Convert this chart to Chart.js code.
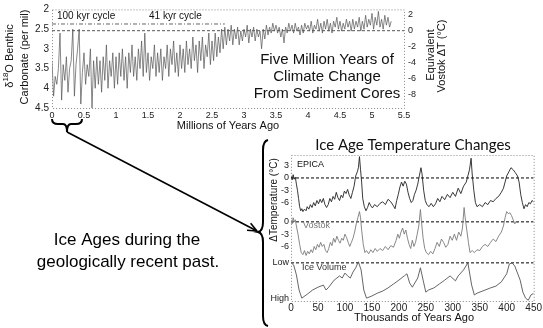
<!DOCTYPE html>
<html>
<head>
<meta charset="utf-8">
<script src="https://cdn.jsdelivr.net/npm/chart.js@4.4.0/dist/chart.umd.min.js"></script>
<style>
  body { margin: 0; background: #fff; }
  #wrap { position: relative; width: 543px; height: 328px; }
  #topBox { position: absolute; left: 0; top: 0; width: 543px; height: 328px; }
  #iceBox { position: absolute; left: 268px; top: 128px; width: 275px; height: 200px; }
</style>
</head>
<body>
<div id="wrap">
  <div id="topBox"><canvas id="sedimentCores"></canvas></div>
  <div id="iceBox"><canvas id="iceAges"></canvas></div>
</div>
<script>
// benthic d18O stack, one value every 0.025 Myr from 0 to 5.3 Ma
const sampleStepMa = 0.025;
const d18O = [
  3.3, 4.2, 3.7, 3.9, 3.5, 2.6, 4.3, 3.4, 3.8, 3.2,
  4.1, 3.5, 3.3, 2.5, 4.2, 3.4, 3.0, 2.5, 4.4, 3.6,
  3.1, 3.9, 3.4, 3.7, 3.0, 4.5, 3.3, 4.0, 3.2, 3.9,
  3.3, 4.1, 3.2, 3.8, 2.9, 4.0, 3.3, 3.7, 3.1, 4.0,
  3.2, 3.9, 3.1, 3.7, 3.0, 3.8, 3.2, 4.0, 3.1, 3.6,
  2.9, 3.7, 3.2, 3.8, 3.0, 3.5, 2.8, 3.7, 2.6, 3.6,
  3.1, 3.8, 3.2, 3.5, 2.9, 3.7, 3.1, 3.6, 3.0, 3.8,
  3.2, 3.5, 2.9, 3.7, 3.0, 3.4, 2.8, 3.6, 3.1, 3.7,
  2.9, 3.5, 3.0, 3.6, 2.8, 3.4, 3.0, 3.5, 2.7, 3.3,
  2.9, 3.6, 2.8, 3.3, 2.7, 3.5, 2.9, 3.2, 2.6, 3.4,
  2.8, 3.3, 2.6, 3.2, 2.7, 3.1, 2.5, 3.0, 2.45, 2.9,
  2.5, 2.8, 2.4, 2.9, 2.5, 2.75, 2.45, 2.9, 2.55, 2.8,
  2.5, 2.7, 2.4, 2.85, 2.5, 2.7, 2.45, 2.8, 2.5, 2.7,
  2.55, 3.0, 2.5, 2.75, 2.4, 2.65, 2.45, 2.6, 2.35, 2.55,
  2.4, 2.6, 2.45, 2.7, 2.5, 2.85, 2.45, 2.6, 2.35, 2.55,
  2.4, 2.6, 2.35, 2.55, 2.45, 2.65, 2.4, 2.6, 2.35, 2.5,
  2.4, 2.55, 2.3, 2.6, 2.4, 2.5, 2.25, 2.55, 2.35, 2.6,
  2.3, 2.5, 2.25, 2.55, 2.35, 2.6, 2.3, 2.45, 2.2, 2.5,
  2.3, 2.55, 2.35, 2.5, 2.25, 2.45, 2.3, 2.55, 2.25, 2.5,
  2.3, 2.45, 2.2, 2.55, 2.3, 2.5, 2.15, 2.45, 2.25, 2.4,
  2.1, 2.5, 2.2, 2.4, 2.05, 2.45, 2.25, 2.5, 2.15, 2.4,
  2.2, 2.45, 2.3
];
const d18OTicks = [2, 2.5, 3, 3.5, 4, 4.5];
const vostokEquivTicks = [2, 0, -2, -4, -6, -8];
const millionYearTicks = [0, 0.5, 1, 1.5, 2, 2.5, 3, 3.5, 4, 4.5, 5, 5.5];

// ice age panel (thousands of years ago)
const epicaAges = [
  0, 2, 4, 6, 8, 10, 12, 14, 16, 18,
  20, 22, 25, 28, 30, 33, 36, 39, 42, 45,
  48, 51, 54, 57, 60, 63, 66, 69, 72, 75,
  78, 81, 84, 87, 90, 93, 96, 99, 102, 105,
  108, 111, 114, 117, 120, 123, 125, 127, 129, 131,
  133, 136, 139, 142, 145, 148, 151, 155, 160, 165,
  170, 175, 180, 185, 190, 193, 196, 199, 202, 205,
  208, 211, 214, 217, 220, 223, 226, 229, 232, 235,
  238, 241, 243, 246, 249, 252, 256, 260, 264, 268,
  272, 276, 280, 285, 290, 295, 300, 305, 310, 315,
  320, 325, 328, 331, 334, 336, 339, 342, 345, 350,
  355, 360, 365, 370, 375, 380, 385, 390, 394, 397,
  400, 404, 408, 412, 416, 420, 423, 426, 429, 432,
  435, 438, 441, 444, 447, 450
];
const epicaTemp = [
  0.5, -0.5, 0.8, -0.3, 0.2, -1.5, -3, -5, -7, -8,
  -7.5, -8.2, -7.6, -8, -7, -7.6, -6.5, -7.2, -6, -6.8,
  -5.5, -6.3, -5.2, -6, -5, -6.5, -7.2, -6.5, -5, -5.8,
  -4.5, -5.2, -3.5, -4.8, -5.5, -4.2, -4.8, -3.2, -3.8, -2.8,
  -4.2, -5, -3.5, -2, 0.5, 1.5, 2.5, 5.2, 2, -1,
  -5, -7, -8, -7.2, -6, -6.8, -7.3, -6.5, -7, -6.2,
  -5.8, -6.5, -5.2, -5.8, -6.8, -7.5, -5.5, -4, -2.2, -1,
  -2, -0.8, -1.5, -3.5, -5, -6, -5.5, -4, -3, -1.5,
  0.5, 2.5, 1, -3, -5.5, -6.5, -7, -6.2, -7, -6.3,
  -5, -5.8, -4.5, -5.3, -4, -4.8, -3.5, -4.5, -2.5, -3.8,
  -2, -1, 0.5, 2, 4.8, 1, -3, -6, -7, -6.5,
  -7, -6, -6.5, -5.5, -5.8, -5, -4.5, -3.5, -2.5, -1,
  0.5, 1.5, 2.5, 2, 1.3, 0.5, -1, -4, -6, -7.5,
  -6.5, -7, -6, -6.3, -5.5, -5.8
];
const vostokAges = [
  0, 2, 4, 6, 8, 10, 13, 16, 19, 22,
  25, 28, 31, 34, 37, 40, 43, 46, 49, 52,
  55, 58, 61, 64, 67, 70, 73, 76, 79, 82,
  85, 88, 91, 94, 97, 100, 103, 106, 109, 112,
  115, 118, 121, 124, 127, 129, 131, 134, 137, 140,
  144, 148, 152, 156, 160, 165, 170, 175, 180, 185,
  190, 195, 198, 201, 204, 207, 210, 213, 216, 219,
  222, 225, 228, 231, 234, 237, 240, 242, 245, 248,
  251, 255, 259, 263, 267, 271, 275, 279, 283, 287,
  291, 295, 299, 303, 307, 311, 315, 318, 321, 323,
  326, 329, 332, 336, 340, 345, 350, 355, 360, 365,
  370, 375, 380, 385, 390, 394, 397, 400, 403, 406,
  409, 412, 415, 418, 421
];
const vostokTemp = [
  0.5, -0.5, 1, 0, 0.5, -1, -3, -5.5, -7.5, -8,
  -7, -8.2, -7.2, -7.8, -6.8, -7.5, -6, -6.8, -5.5, -6.2,
  -5, -6, -5.5, -7, -7.5, -6.5, -5, -5.8, -4, -5,
  -3.5, -4.5, -5.2, -4, -4.5, -3, -3.8, -5, -6, -5,
  -4, -2.5, -0.5, 1, 2.5, 1, -2, -5.5, -7.5, -7,
  -7.8, -6.8, -7.5, -6.5, -7.2, -6.5, -7, -6, -6.8, -5.8,
  -6.2, -4.5, -3, -4, -2.5, -1.5, -3, -2, -4, -5.5,
  -6.5, -4.5, -6, -5, -3, -1, 3, 0, -4, -6.5,
  -7.5, -8, -7.2, -7.8, -6.5, -5, -6, -4.2, -5, -6.2,
  -5.5, -3.5, -4.5, -3, -4.5, -2.5, -3.5, -1.5, 3.5, 1,
  -2, -5, -7.5, -7, -7.5, -6.8, -7, -6, -5.5, -6,
  -5, -4.2, -4.8, -3.5, -2.5, -1, 1, 2.5, 2, 2.2,
  1.5, 0.5, -0.5, 0.2, -0.3
];
// ice volume, 0 = low, 1 = high
const iceAges = [
  0, 5, 10, 15, 20, 30, 40, 50, 60, 65,
  70, 80, 90, 95, 100, 105, 110, 115, 120, 125,
  130, 135, 140, 150, 160, 170, 180, 190, 200, 210,
  215, 220, 225, 235, 240, 245, 250, 255, 265, 275,
  285, 295, 305, 310, 320, 328, 335, 340, 345, 360,
  370, 380, 390, 400, 405, 410, 415, 425, 430, 435,
  440, 445, 450
];
const iceVolume = [
  0, 0.06, 0.34, 0.77, 1.0, 0.89, 0.77, 0.69, 0.63, 0.77,
  0.69, 0.49, 0.37, 0.43, 0.29, 0.37, 0.43, 0.26, 0.14, -0.03,
  0.2, 0.77, 1.0, 0.94, 0.86, 0.8, 0.71, 0.6, 0.49, 0.37,
  0.31, 0.57, 0.69, 0.43, 0.14, 0.49, 0.83, 0.77, 0.71, 0.6,
  0.49, 0.37, 0.51, 0.37, 0.2, 0, 0.63, 0.91, 0.86, 0.77,
  0.71, 0.66, 0.54, 0.31, 0.03, 0, 0.09, 0.49, 0.83, 1.0,
  1.06, 0.91, 0.86
];
const iceTickLabels = ['3', '0', '-3', '-6', '0', '-3', '-6', 'Low', 'High'];
const kyrTicks = [0, 50, 100, 150, 200, 250, 300, 350, 400, 450];

// stacking of the three records on one axis
const vostokOffset = -10.7;
const iceLowLevel = -20.7;
const iceHighLevel = -29.3;
const iceTickValues = [3, 0, -3, -6, vostokOffset, vostokOffset - 3, vostokOffset - 6, iceLowLevel, iceHighLevel];

// 0 degC on the right axis of the top chart sits at d18O = 2.54, 1 degC = 0.2022 per mil
const equivZero = 2.54;
const perMilPerDeg = 0.2022;

const FONT = '"Liberation Sans", Arial, sans-serif';
const plain = v => String(v);

const sedimentDecor = {
  id: 'sedimentDecor',
  afterDraw(chart) {
    const ctx = chart.ctx;
    const a = chart.chartArea;
    ctx.save();
    ctx.strokeStyle = '#888';
    ctx.lineWidth = 1;
    ctx.setLineDash([1, 2]);
    ctx.strokeRect(a.left + 0.5, a.top + 0.5, a.right - a.left, a.bottom - a.top);
    ctx.setLineDash([]);

    ctx.fillStyle = '#111';
    ctx.textBaseline = 'middle';
    ctx.font = '10px ' + FONT;
    ctx.fillText('100 kyr cycle', 57, 16);
    ctx.fillText('41 kyr cycle', 149, 16);

    ctx.textAlign = 'center';
    ctx.font = '15px ' + FONT;
    ctx.fillText('Five Million Years of', 327, 60);
    ctx.fillText('Climate Change', 327, 77);
    ctx.fillText('From Sediment Cores', 327, 94);

    ctx.font = '11px ' + FONT;
    ctx.fillText('Millions of Years Ago', 228, 126);

    // left title with superscript
    ctx.save();
    ctx.translate(10, 56);
    ctx.rotate(-Math.PI / 2);
    ctx.textAlign = 'left';
    ctx.font = '11px ' + FONT;
    const w1 = ctx.measureText('\u03b4').width;
    const w3 = ctx.measureText('O Benthic').width;
    ctx.font = '8px ' + FONT;
    const w2 = ctx.measureText('18').width;
    let sx = -(w1 + w2 + w3) / 2;
    ctx.font = '11px ' + FONT;
    ctx.fillText('\u03b4', sx, 0);
    ctx.font = '8px ' + FONT;
    ctx.fillText('18', sx + w1, -4);
    ctx.font = '11px ' + FONT;
    ctx.fillText('O Benthic', sx + w1 + w2, 0);
    ctx.restore();

    const rotText = (t, x, y) => {
      ctx.save();
      ctx.translate(x, y);
      ctx.rotate(-Math.PI / 2);
      ctx.fillText(t, 0, 0);
      ctx.restore();
    };
    ctx.font = '11px ' + FONT;
    rotText('Carbonate (per mil)', 25, 57);
    rotText('Equivalent', 431, 55);
    rotText('Vostok \u0394T (\u00b0C)', 442, 56);

    ctx.font = '17px ' + FONT;
    ctx.fillStyle = '#000';
    ctx.fillText('Ice Ages during the', 127, 240);
    ctx.fillText('geologically recent past.', 128, 262);

    // small brace under 0-0.5 Ma
    ctx.strokeStyle = '#000';
    ctx.lineWidth = 2;
    ctx.beginPath();
    ctx.moveTo(52, 119);
    ctx.quadraticCurveTo(52, 124, 58, 124);
    ctx.lineTo(63, 124);
    ctx.quadraticCurveTo(67, 124, 67, 132);
    ctx.quadraticCurveTo(67, 124, 71, 124);
    ctx.lineTo(76, 124);
    ctx.quadraticCurveTo(82, 124, 82, 119);
    ctx.stroke();

    // arrow to the ice age panel
    const x0 = 67, y0 = 132, x1 = 257, y1 = 231;
    ctx.lineWidth = 1.6;
    ctx.beginPath();
    ctx.moveTo(x0, y0);
    ctx.lineTo(x1, y1);
    ctx.stroke();
    const ang = Math.atan2(y1 - y0, x1 - x0);
    ctx.beginPath();
    ctx.moveTo(x1, y1);
    ctx.lineTo(x1 - 10 * Math.cos(ang - 0.4), y1 - 10 * Math.sin(ang - 0.4));
    ctx.moveTo(x1, y1);
    ctx.lineTo(x1 - 10 * Math.cos(ang + 0.4), y1 - 10 * Math.sin(ang + 0.4));
    ctx.stroke();

    // large brace left of the ice age panel
    ctx.lineWidth = 2;
    ctx.beginPath();
    ctx.moveTo(268, 140);
    ctx.quadraticCurveTo(263, 141, 263, 150);
    ctx.lineTo(263, 222);
    ctx.quadraticCurveTo(263, 231, 258, 232);
    ctx.quadraticCurveTo(263, 233, 263, 242);
    ctx.lineTo(263, 316);
    ctx.quadraticCurveTo(263, 325, 268, 326);
    ctx.stroke();
    ctx.restore();
  }
};

new Chart(document.getElementById('sedimentCores'), {
  type: 'line',
  data: {
    datasets: [
      {
        data: d18O.map((v, i) => ({ x: i * sampleStepMa, y: v })),
        borderColor: '#555',
        borderWidth: 0.7,
        pointRadius: 0,
        yAxisID: 'y'
      },
      {
        data: [{ x: 0, y: 0 }, { x: 5.5, y: 0 }],
        borderColor: '#555',
        borderWidth: 1,
        borderDash: [3, 2],
        pointRadius: 0,
        yAxisID: 'y2'
      },
      {
        data: [{ x: 0, y: 2.37 }, { x: 2.7, y: 2.37 }],
        borderColor: '#666',
        borderWidth: 1,
        borderDash: [4, 2, 1, 2],
        pointRadius: 0,
        yAxisID: 'y'
      }
    ]
  },
  options: {
    responsive: true,
    maintainAspectRatio: false,
    animation: false,
    layout: { padding: { top: 6 } },
    plugins: { legend: { display: false }, tooltip: { enabled: false } },
    scales: {
      x: {
        type: 'linear',
        min: 0,
        max: 5.5,
        afterFit: s => { s.height = 220; },
        afterBuildTicks: s => { s.ticks = millionYearTicks.map(v => ({ value: v })); },
        grid: { display: false, drawTicks: false },
        border: { display: false },
        ticks: { padding: 2, color: '#222', font: { size: 9, family: FONT }, maxRotation: 0, callback: plain }
      },
      y: {
        position: 'left',
        reverse: true,
        min: 2,
        max: 4.5,
        afterFit: s => { s.width = 52; },
        afterBuildTicks: s => { s.ticks = d18OTicks.map(v => ({ value: v })); },
        grid: { display: false, drawTicks: false },
        border: { display: false },
        ticks: { padding: 3, color: '#222', font: { size: 10, family: FONT }, callback: plain }
      },
      y2: {
        position: 'right',
        min: (equivZero - 4.5) / perMilPerDeg,
        max: (equivZero - 2) / perMilPerDeg,
        afterFit: s => { s.width = 139; },
        afterBuildTicks: s => { s.ticks = vostokEquivTicks.map(v => ({ value: v })); },
        grid: { display: false, drawTicks: false },
        border: { display: false },
        ticks: { padding: 4, color: '#222', font: { size: 9, family: FONT }, callback: plain }
      }
    }
  },
  plugins: [sedimentDecor]
});

const iceDecor = {
  id: 'iceDecor',
  afterDraw(chart) {
    const ctx = chart.ctx;
    const a = chart.chartArea;
    ctx.save();
    ctx.strokeStyle = '#888';
    ctx.lineWidth = 1;
    ctx.setLineDash([1, 2]);
    ctx.strokeRect(a.left + 0.5, a.top + 0.5, a.right - a.left, a.bottom - a.top);
    ctx.setLineDash([]);
    ctx.fillStyle = '#111';
    ctx.textBaseline = 'middle';
    ctx.textAlign = 'center';
    ctx.font = '15px Lato, "Open Sans", sans-serif';
    ctx.fillText('Ice Age Temperature Changes', 145, 17);
    ctx.font = '11px ' + FONT;
    ctx.fillText('Thousands of Years Ago', 146, 190);
    ctx.save();
    ctx.translate(6, 72);
    ctx.rotate(-Math.PI / 2);
    ctx.font = '10px ' + FONT;
    ctx.fillText('\u0394Temperature (\u00b0C)', 0, 0);
    ctx.restore();
    ctx.textAlign = 'left';
    ctx.font = '9px ' + FONT;
    ctx.fillText('EPICA', 29, 37);
    ctx.fillStyle = '#777';
    ctx.fillText('Vostok', 35, 98);
    ctx.fillStyle = '#333';
    ctx.fillText('Ice Volume', 34, 140);
    ctx.restore();
  }
};

const flatLine = level => ({
  data: [{ x: 0, y: level }, { x: 450, y: level }],
  borderColor: '#000',
  borderWidth: 1,
  borderDash: [3, 2],
  pointRadius: 0
});

new Chart(document.getElementById('iceAges'), {
  type: 'line',
  data: {
    datasets: [
      {
        data: epicaAges.map((t, i) => ({ x: t, y: epicaTemp[i] })),
        borderColor: '#222',
        borderWidth: 0.9,
        pointRadius: 0
      },
      {
        data: vostokAges.map((t, i) => ({ x: t, y: vostokOffset + vostokTemp[i] })),
        borderColor: '#7a7a7a',
        borderWidth: 0.9,
        pointRadius: 0
      },
      {
        data: iceAges.map((t, i) => ({ x: t, y: iceLowLevel + iceVolume[i] * (iceHighLevel - iceLowLevel) })),
        borderColor: '#555',
        borderWidth: 0.9,
        pointRadius: 0
      },
      flatLine(0),
      flatLine(vostokOffset),
      flatLine(iceLowLevel)
    ]
  },
  options: {
    responsive: true,
    maintainAspectRatio: false,
    animation: false,
    layout: { padding: { top: 27, right: 7 } },
    plugins: { legend: { display: false }, tooltip: { enabled: false } },
    scales: {
      x: {
        type: 'linear',
        min: 0,
        max: 450,
        afterFit: s => { s.height = 27; },
        afterBuildTicks: s => { s.ticks = kyrTicks.map(v => ({ value: v })); },
        grid: { display: false, drawTicks: false },
        border: { display: false },
        ticks: { padding: 1, color: '#222', font: { size: 10, family: FONT }, maxRotation: 0, callback: plain }
      },
      y: {
        min: -30,
        max: 5.6,
        afterFit: s => { s.width = 23; },
        afterBuildTicks: s => { s.ticks = iceTickValues.map(v => ({ value: v })); },
        grid: { display: false, drawTicks: false },
        border: { display: false },
        ticks: {
          padding: 2,
          color: '#222',
          font: { size: 9, family: FONT },
          callback: (v, i) => iceTickLabels[i]
        }
      }
    }
  },
  plugins: [iceDecor]
});
</script>
</body>
</html>
